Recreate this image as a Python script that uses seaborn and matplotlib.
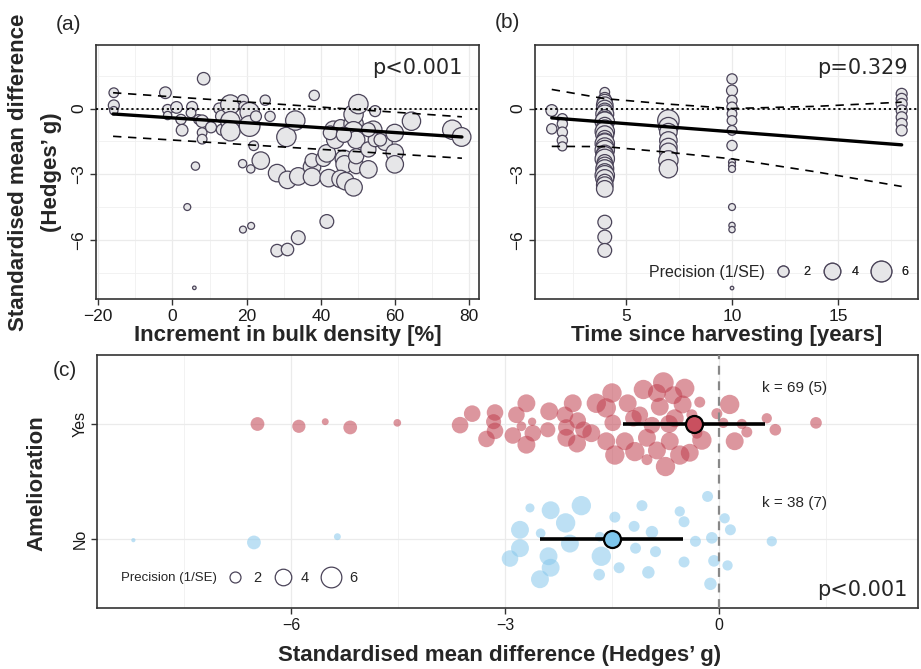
import matplotlib
matplotlib.use("Agg")
import matplotlib.pyplot as plt
from matplotlib import ticker
from matplotlib.lines import Line2D
import numpy as np
import pandas as pd
import seaborn as sns

# ---- panel (a): increment in bulk density vs Hedges' g ----
bd_increment = [-15.8, -15.8, -15.8, -1.9, 8.4, -1.3, -1.3, 1.1, 2.3, 2.6, 5.3, 5.0, 7.0, 8.0, 8.0,
                8.0, 6.2, 4.0, 5.9, 10.4, 12.6, 13.3, 13.3, 15.6, 15.6, 15.6, 19.0, 19.2, 20.8, 20.8,
                22.5, 21.9, 23.8, 21.1, 18.9, 19.0, 21.2, 25.0, 26.3, 30.7, 33.1, 28.2, 31.0, 33.9,
                28.2, 31.0, 33.9, 41.6, 38.2, 37.6, 37.6, 37.6, 40.7, 41.6, 42.1, 43.4, 43.9, 45.3,
                46.2, 46.4, 45.3, 46.6, 48.8, 48.8, 48.8, 48.8, 50.1, 49.5, 49.5, 49.5, 52.8, 52.8,
                54.1, 54.6, 54.6, 57.2, 59.9, 59.9, 59.9, 64.4, 75.4, 77.9, 42.5, 46.2, 52.8, 56.0]
bd_smd = [0.72, 0.14, -0.10, 0.72, 1.36, -0.05, -0.32, 0.05, -0.50, -0.99, 0.07, -0.20, -0.50, -0.58,
          -1.10, -1.40, -2.63, -4.50, -8.19, -0.86, 0.00, -0.36, -0.97, 0.18, -0.58, -1.04, 0.38, 0.10,
          -0.17, -0.80, -0.36, -1.70, -2.38, -2.76, -2.52, -5.53, -5.36, 0.38, -0.36, -1.30, -0.55,
          -2.95, -3.26, -3.10, -6.49, -6.44, -5.90, -5.16, 0.60, -2.67, -3.12, -2.37, -2.30, -2.05,
          -3.18, -0.97, -1.43, -0.82, -2.30, -2.55, -3.22, -3.32, -3.60, -0.70, -0.27, -1.04, 0.20,
          -1.43, -2.63, -2.18, -1.87, -2.78, -0.97, -0.12, -1.43, -1.57, -1.12, -2.02, -2.55, -0.58,
          -0.97, -1.30, -1.11, -1.20, -0.97, -1.43]
bd_prec = [1.65, 2.0, 1.33, 2.2, 2.45, 1.8, 1.33, 2.2, 1.8, 2.2, 2.0, 1.65, 1.65, 2.45, 1.65, 1.65,
           1.33, 1.06, 0.6, 2.0, 2.0, 2.45, 2.0, 5.3, 5.3, 5.3, 2.0, 1.65, 5.3, 6.0, 2.0, 1.65, 4.4,
           1.33, 1.33, 1.06, 1.06, 1.8, 1.8, 5.3, 5.3, 4.4, 4.4, 4.4, 2.45, 2.45, 2.9, 2.9, 1.8, 4.4,
           4.4, 2.9, 3.4, 4.4, 4.4, 4.4, 4.4, 2.9, 4.4, 4.4, 4.4, 4.4, 4.4, 5.3, 5.3, 5.3, 5.3, 4.4,
           3.4, 3.4, 3.4, 4.4, 4.4, 2.0, 2.9, 3.4, 4.4, 4.4, 4.4, 4.8, 5.3, 5.0, 2.9, 3.4, 2.9, 2.45]
bd_fit_x = [-16, 78]
bd_fit_y = [-0.25, -1.30]
bd_ci_hi = [0.72, -0.38]
bd_ci_lo = [-1.27, -2.27]

# ---- panel (b): time since harvesting ----
hv_years = [1.5] * 2 + [2.0] * 5 + [4.0] * 34 + [7.0] * 8 + [10.0] * 15 + [18.0] * 7
hv_smd = [-0.09, -0.93,
          -0.47, -0.70, -1.08, -1.46, -1.73,
          0.74, 0.45, 0.30, 0.15, 0.00, -0.10, -0.25, -0.40, -0.55, -0.60, -0.75, -0.90, -1.05,
          -1.20, -1.35, -1.50, -1.60, -1.75, -1.90, -2.05, -2.15, -2.30, -2.45, -2.60, -2.75,
          -2.90, -3.05, -3.20, -3.35, -3.50, -3.67, -5.19, -5.87, -6.48,
          -0.55, -0.85, -1.08, -1.46, -1.76, -1.98, -2.37, -2.75,
          1.35, 0.82, 0.37, 0.06, -0.24, -0.55, -1.00, -1.69, -2.45, -2.60, -2.76, -4.50, -5.34,
          -5.53, -8.20,
          0.67, 0.44, 0.21, -0.09, -0.40, -0.70, -1.00]
hv_prec = [2.2, 1.8,
           1.8, 1.8, 1.8, 1.8, 1.5,
           1.65, 2.4, 3.4, 4.0, 4.0, 3.4, 4.6, 3.4, 4.6, 5.3, 3.4, 4.0, 5.3, 4.6, 3.4, 4.0, 5.3,
           4.6, 5.3, 4.0, 4.6, 5.3, 3.4, 4.0, 4.6, 4.0, 5.3, 4.6, 3.4, 4.0, 4.0, 2.9, 2.9, 2.9,
           6.4, 5.3, 4.4, 4.4, 4.4, 4.4, 5.3, 4.8,
           1.8, 2.0, 1.8, 1.8, 1.65, 1.65, 1.65, 1.8, 1.06, 1.06, 1.06, 1.06, 0.95, 0.95, 0.6,
           2.0, 2.0, 2.0, 2.0, 2.0, 2.0, 2.0]
hv_fit_x = [1.5, 18]
hv_fit_y = [-0.43, -1.66]
hv_ci_x = [1.5, 4, 7, 10, 14, 18]
hv_ci_hi = [0.87, 0.45, 0.20, 0.00, 0.10, 0.29]
hv_ci_lo = [-1.73, -1.74, -2.00, -2.30, -2.90, -3.56]

# ---- panel (c): amelioration ----
yes_smd = [-6.47, -5.89, -5.52, -5.17, -4.51, -3.63, -3.46, -3.26, -3.14, -3.16, -3.14,
           -2.84, -2.70, -2.77, -2.89, -2.70, -2.62, -2.61, -2.38, -2.16, -2.14, -2.14, -2.05,
           -1.98, -1.99, -1.79, -1.72, -1.58, -1.50, -1.58, -1.49, -1.46, -1.32, -1.28, -1.18,
           -1.11, -1.06, -1.01, -1.01, -0.94, -0.87, -0.78, -0.87, -0.83, -0.75, -0.69, -0.64,
           -0.62, -0.55, -0.48, -0.51, -0.41, -0.38, -0.31, -0.27, -0.24, -0.03, 0.06, 0.15, 0.22,
           0.32, 0.39, 0.67, 0.79, 1.36,
           -1.20, -0.70, -1.90, -2.40]
yes_jit = [0.00, -0.02, 0.02, -0.03, 0.01, -0.01, 0.09, -0.13, 0.10, 0.02, -0.06,
           0.08, 0.18, -0.02, -0.10, -0.18, 0.02, -0.08, 0.11, 0.08, -0.03, -0.12, 0.18, 0.03,
           -0.17, -0.08, 0.18, 0.14, 0.27, -0.15, 0.01, -0.27, -0.15, 0.18, -0.24, 0.08, 0.30,
           -0.12, -0.31, -0.01, 0.27, 0.36, -0.23, 0.15, -0.37, -0.15, 0.25, 0.05, -0.27, 0.31,
           0.17, -0.25, 0.08, -0.08, 0.19, -0.14, 0.09, 0.01, 0.17, -0.15, 0.00, -0.07, 0.05,
           -0.05, 0.01,
           0.05, 0.00, -0.05, -0.05]
yes_prec = [2.9, 2.7, 1.06, 2.9, 1.2, 4.0, 4.0, 4.0, 4.0, 3.4, 4.0,
            4.0, 4.6, 1.65, 4.0, 4.6, 1.33, 4.0, 4.6, 4.0, 4.0, 4.6, 4.6, 4.0, 4.6, 4.6, 5.3, 5.3,
            5.3, 4.6, 4.0, 5.3, 4.6, 4.6, 5.3, 4.0, 5.3, 4.6, 2.0, 4.0, 4.6, 6.0, 4.6, 4.6, 5.3,
            4.6, 4.6, 4.6, 5.3, 5.3, 4.6, 4.6, 2.0, 2.0, 2.0, 5.3, 2.0, 1.8, 5.3, 4.6, 1.8, 2.0,
            1.8, 2.2, 2.2,
            4.0, 4.6, 4.0, 3.4]
no_smd = [-8.21, -6.52, -5.35, -2.65, -2.36, -1.93, -2.15, -2.79, -2.50, -2.79, -2.93, -2.39,
          -2.36, -2.51, -2.09, -1.67, -1.65, -1.68, -1.46, -1.40, -1.19, -1.17, -1.08, -0.94,
          -0.99, -0.89, -0.55, -0.49, -0.49, -0.33, -0.16, -0.10, -0.07, -0.12, 0.08, 0.16, 0.12,
          0.74]
no_jit = [-0.01, -0.03, 0.02, 0.27, 0.25, 0.29, 0.14, 0.08, 0.05, -0.08, -0.17, -0.15, -0.25,
          -0.35, -0.04, 0.02, -0.15, -0.31, 0.19, -0.25, 0.11, -0.08, 0.29, 0.06, -0.29, -0.11,
          0.24, 0.15, -0.20, -0.02, 0.37, 0.01, -0.19, -0.39, 0.18, 0.08, -0.23, -0.02]
no_prec = [0.67, 2.9, 1.06, 1.5, 4.6, 5.3, 5.3, 4.6, 1.65, 4.6, 4.0, 4.6, 4.6, 4.6, 4.6, 1.65,
           5.3, 2.2, 2.0, 2.0, 2.0, 2.0, 2.0, 2.45, 2.45, 2.0, 1.8, 2.0, 2.0, 2.0, 2.0, 2.2, 2.2,
           2.45, 1.8, 2.0, 1.8, 1.8]
groups = ["Yes", "No"]
group_pos = [1, 0]
group_mean = [-0.35, -1.50]
group_lo = [-1.34, -2.51]
group_hi = [0.65, -0.51]
group_k = ["k = 69 (5)", "k = 38 (7)"]
legend_prec = [2, 4, 6]

SIZES = (2.5, 262)
SIZE_NORM = (0.5, 7)


def prec_area(p):
    """same linear area mapping seaborn uses for sizes/size_norm"""
    return SIZES[0] + (p - SIZE_NORM[0]) / (SIZE_NORM[1] - SIZE_NORM[0]) * (SIZES[1] - SIZES[0])


def style_axes(ax):
    ax.set_facecolor("white")
    for s in ax.spines.values():
        s.set_visible(True)
        s.set_color("#333333")
        s.set_linewidth(1.2)
    ax.grid(True, which="major", color="#EBEBEB", lw=0.9)
    ax.grid(True, which="minor", color="#F0F0F0", lw=0.6)
    ax.tick_params(which="major", length=4, width=1, color="#333333", labelcolor="#1a1a1a",
                   bottom=True, left=True, pad=3)
    ax.tick_params(which="minor", length=0)
    ax.set_axisbelow(True)
    ax.set_xlabel("")
    ax.set_ylabel("")


sns.set_theme(style="whitegrid")
plt.rcParams["font.family"] = ["Liberation Sans", "DejaVu Sans"]

W, H = 921, 669
fig = plt.figure(figsize=(W / 100, H / 100), dpi=100)
ax_a = fig.add_axes([96 / W, 1 - 299 / H, 383 / W, 254 / H])
ax_b = fig.add_axes([535 / W, 1 - 299 / H, 383 / W, 254 / H])
ax_c = fig.add_axes([97 / W, 1 - 608 / H, 821 / W, 253 / H])

pt_face = "#E6E6E8"
pt_edge = "#4B4459"
ylim_top = (-8.7, 2.9)

# (a)
df_a = pd.DataFrame({"x": bd_increment, "y": bd_smd, "prec": bd_prec})
sns.scatterplot(data=df_a, x="x", y="y", size="prec", sizes=SIZES, size_norm=SIZE_NORM,
                color=pt_face, edgecolor=pt_edge, linewidth=0.9, legend=False, ax=ax_a, zorder=2)
ax_a.axhline(0, color="black", lw=1.3, ls=(0, (1.2, 1.6)), zorder=3)
ax_a.plot(bd_fit_x, bd_fit_y, color="black", lw=2.4, zorder=4)
ax_a.plot(bd_fit_x, bd_ci_hi, color="black", lw=1.2, ls=(0, (5, 4)), zorder=4)
ax_a.plot(bd_fit_x, bd_ci_lo, color="black", lw=1.2, ls=(0, (5, 4)), zorder=4)
ax_a.set_xlim(-20.6, 82.6)
ax_a.set_ylim(*ylim_top)
ax_a.xaxis.set_major_locator(ticker.MultipleLocator(20))
ax_a.xaxis.set_minor_locator(ticker.MultipleLocator(10))
ax_a.text(0.956, 0.909, "p<0.001", transform=ax_a.transAxes, ha="right", va="center",
          fontsize=15, family="DejaVu Sans")

# (b)
df_b = pd.DataFrame({"x": hv_years, "y": hv_smd, "prec": hv_prec})
sns.scatterplot(data=df_b, x="x", y="y", size="prec", sizes=SIZES, size_norm=SIZE_NORM,
                color=pt_face, edgecolor=pt_edge, linewidth=0.9, legend=False, ax=ax_b, zorder=2)
ax_b.axhline(0, color="black", lw=1.3, ls=(0, (1.2, 1.6)), zorder=3)
ax_b.plot(hv_fit_x, hv_fit_y, color="black", lw=2.4, zorder=4)
ax_b.plot(hv_ci_x, hv_ci_hi, color="black", lw=1.2, ls=(0, (5, 4)), zorder=4)
ax_b.plot(hv_ci_x, hv_ci_lo, color="black", lw=1.2, ls=(0, (5, 4)), zorder=4)
ax_b.set_xlim(0.71, 18.77)
ax_b.set_ylim(*ylim_top)
ax_b.xaxis.set_major_locator(ticker.MultipleLocator(5))
ax_b.xaxis.set_minor_locator(ticker.MultipleLocator(2.5))
ax_b.text(0.974, 0.909, "p=0.329", transform=ax_b.transAxes, ha="right", va="center",
          fontsize=15, family="DejaVu Sans")

for ax in (ax_a, ax_b):
    style_axes(ax)
    ax.yaxis.set_major_locator(ticker.MultipleLocator(3))
    ax.yaxis.set_minor_locator(ticker.MultipleLocator(1.5))
    ax.tick_params(axis="both", labelsize=12.5)
    ax.tick_params(axis="y", labelrotation=90)
    for lab in ax.get_yticklabels():
        lab.set_va("center")

# legend (b)
ax_b.text(0.6005, 0.106, "Precision (1/SE)", transform=ax_b.transAxes, ha="right", va="center",
          fontsize=11.5)
hb = [Line2D([], [], ls="", marker="o", markersize=np.sqrt(prec_area(p)), markerfacecolor=pt_face,
             markeredgecolor=pt_edge, markeredgewidth=0.9) for p in legend_prec]
leg_b = ax_b.legend(hb, [str(p) for p in legend_prec], ncol=3, loc="center left",
                    bbox_to_anchor=(0.628, 0.106), frameon=False, fontsize=9, handlelength=1.2,
                    handletextpad=1.0, columnspacing=1.16, borderpad=0, borderaxespad=0)
ax_b.add_artist(leg_b)

# (c)
df_c = pd.DataFrame({
    "x": yes_smd + no_smd,
    "ypos": [group_pos[0] + j for j in yes_jit] + [group_pos[1] + j for j in no_jit],
    "prec": yes_prec + no_prec,
    "group": ["Yes"] * len(yes_smd) + ["No"] * len(no_smd),
})
pal = {"Yes": "#C0404F", "No": "#87C8EC"}
mean_fill = {"Yes": "#C9505F", "No": "#7EC6EC"}
sns.scatterplot(data=df_c, x="x", y="ypos", hue="group", palette=pal, size="prec", sizes=SIZES,
                size_norm=SIZE_NORM, alpha=0.55, linewidth=0, legend=False, ax=ax_c, zorder=2)
ax_c.axvline(0, color="#888888", lw=1.6, ls=(0, (4, 3)), zorder=3)
for g, pos, m, lo, hi, k in zip(groups, group_pos, group_mean, group_lo, group_hi, group_k):
    ax_c.errorbar(m, pos, xerr=[[m - lo], [hi - m]], fmt="none", ecolor="black", elinewidth=2.6,
                  capsize=0, zorder=5)
    ax_c.scatter([m], [pos], s=150, color=mean_fill[g], edgecolor="black", linewidth=1.6, zorder=6)
    ax_c.text(0.6, pos + 0.31, k, ha="left", va="center", fontsize=11)
ax_c.set_xlim(-8.72, 2.79)
ax_c.set_ylim(-0.6, 1.6)
style_axes(ax_c)
ax_c.xaxis.set_major_locator(ticker.MultipleLocator(3))
ax_c.xaxis.set_minor_locator(ticker.MultipleLocator(1.5))
ax_c.set_yticks(group_pos)
ax_c.set_yticklabels(groups)
ax_c.grid(False, axis="y", which="minor")
ax_c.tick_params(axis="both", labelsize=11.5)
ax_c.tick_params(axis="y", labelrotation=90)
for lab in ax_c.get_yticklabels():
    lab.set_va("center")
ax_c.text(0.987, 0.071, "p<0.001", transform=ax_c.transAxes, ha="right", va="center",
          fontsize=15, family="DejaVu Sans")

# legend (c)
ax_c.text(0.146, 0.119, "Precision (1/SE)", transform=ax_c.transAxes, ha="right", va="center",
          fontsize=9.5)
hc = [Line2D([], [], ls="", marker="o", markersize=np.sqrt(prec_area(p)), markerfacecolor="none",
             markeredgecolor="#4B4459", markeredgewidth=0.9) for p in legend_prec]
ax_c.legend(hc, [str(p) for p in legend_prec], ncol=3, loc="center left",
            bbox_to_anchor=(0.157, 0.119), frameon=False, fontsize=10.5, handlelength=1.2,
            handletextpad=0.65, columnspacing=0.9, borderpad=0, borderaxespad=0)

# titles and panel tags
fig.text(19 / W, 1 - 172 / H, "Standardised mean difference", rotation=90,
         ha="center", va="center", fontsize=16, fontweight="bold")
fig.text(52 / W, 1 - 172 / H, "(Hedges\u2019 g)", rotation=90,
         ha="center", va="center", fontsize=16, fontweight="bold")
fig.text(287.5 / W, 1 - 335 / H, "Increment in bulk density [%]", ha="center", va="center",
         fontsize=16, fontweight="bold")
fig.text(726.5 / W, 1 - 335 / H, "Time since harvesting [years]", ha="center", va="center",
         fontsize=16, fontweight="bold")
fig.text(37 / W, 1 - 483 / H, "Amelioration", rotation=90, ha="center", va="center",
         fontsize=16, fontweight="bold")
fig.text(500 / W, 1 - 655 / H, "Standardised mean difference (Hedges\u2019 g)", ha="center",
         va="center", fontsize=16, fontweight="bold")
fig.text(68 / W, 1 - 25 / H, "(a)", ha="center", va="center", fontsize=15)
fig.text(507 / W, 1 - 22 / H, "(b)", ha="center", va="center", fontsize=15)
fig.text(65 / W, 1 - 370 / H, "(c)", ha="center", va="center", fontsize=15)

fig.savefig("out.png", dpi=100)
